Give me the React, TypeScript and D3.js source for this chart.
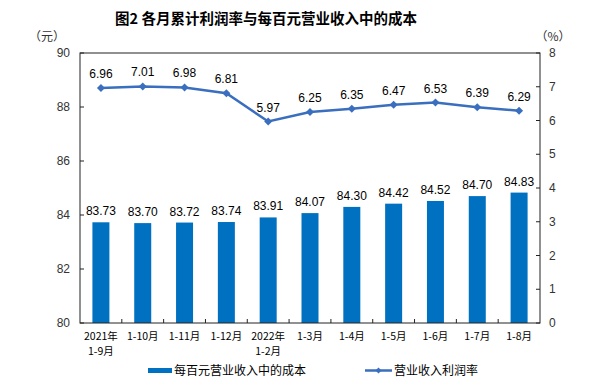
import React from "react";
import * as d3 from "d3";

const months = ["2021年\n1-9月", "1-10月", "1-11月", "1-12月", "2022年\n1-2月", "1-3月", "1-4月", "1-5月", "1-6月", "1-7月", "1-8月"];
const costPer100 = [83.73, 83.70, 83.72, 83.74, 83.91, 84.07, 84.30, 84.42, 84.52, 84.70, 84.83];
const profitRate = [6.96, 7.01, 6.98, 6.81, 5.97, 6.25, 6.35, 6.47, 6.53, 6.39, 6.29];
const leftTicks = [80, 82, 84, 86, 88, 90];
const rightTicks = [0, 1, 2, 3, 4, 5, 6, 7, 8];

const W = 600, H = 384;
const margin = { top: 53, right: 60, bottom: 61, left: 80 };
const barColor = "#0070C0";
const lineColor = "#3A6EBE";
const numFont = "'Liberation Sans', Arial, 'Noto Sans CJK SC', sans-serif";
const cjkFont = "'Noto Sans CJK SC', 'Liberation Sans', sans-serif";

export default function App() {
  const innerW = W - margin.left - margin.right;
  const innerH = H - margin.top - margin.bottom;

  const x = d3.scaleBand<number>().domain(d3.range(months.length)).range([0, innerW]).paddingInner(0);
  const yL = d3.scaleLinear().domain([80, 90]).range([innerH, 0]);
  const yR = d3.scaleLinear().domain([0, 8]).range([innerH, 0]);
  const barW = 17;
  const cx = (i: number) => (x(i) as number) + x.bandwidth() / 2;

  const line = d3.line<number>().x((d, i) => cx(i)).y(d => yR(d));

  const diamond = (px: number, py: number, r: number) =>
    `M${px},${py - r}L${px + r},${py}L${px},${py + r}L${px - r},${py}Z`;

  return (
    <svg width={W} height={H} style={{ position: "absolute", left: 0, top: 0, background: "#fff" }}>
      <text x={266} y={24} textAnchor="middle" fontFamily={cjkFont} fontSize={14.5} fontWeight="bold" fill="#000">
        图2 各月累计利润率与每百元营业收入中的成本
      </text>
      <text x={47} y={41} textAnchor="middle" fontFamily={cjkFont} fontSize={12} fill="#333">（元）</text>
      <text x={553} y={41} textAnchor="middle" fontFamily={cjkFont} fontSize={12} fill="#333">（%）</text>

      <g transform={`translate(${margin.left},${margin.top})`}>
        {costPer100.map((v, i) => (
          <g key={"b" + i}>
            <rect x={cx(i) - barW / 2} y={yL(v)} width={barW} height={innerH - yL(v)} fill={barColor} />
            <text x={cx(i)} y={yL(v) - 7} textAnchor="middle" fontFamily={numFont} fontSize={12} fill="#000">
              {v.toFixed(2)}
            </text>
          </g>
        ))}

        <path d={line(profitRate) || ""} fill="none" stroke={lineColor} strokeWidth={2.5} />
        {profitRate.map((v, i) => (
          <g key={"p" + i}>
            <path d={diamond(cx(i), yR(v), 4)} fill={lineColor} />
            <text x={cx(i)} y={yR(v) - 10} textAnchor="middle" fontFamily={numFont} fontSize={12} fill="#000">
              {v.toFixed(2)}
            </text>
          </g>
        ))}

        <rect x={0} y={0} width={innerW} height={innerH} fill="none" stroke="#222" strokeWidth={1} />

        {leftTicks.map(t => (
          <g key={"l" + t}>
            <line x1={0} x2={4} y1={yL(t)} y2={yL(t)} stroke="#222" />
            <text x={-10} y={yL(t) + 4} textAnchor="end" fontFamily={numFont} fontSize={12} fill="#333">{t}</text>
          </g>
        ))}
        {rightTicks.map(t => (
          <g key={"r" + t}>
            <line x1={innerW - 4} x2={innerW} y1={yR(t)} y2={yR(t)} stroke="#222" />
            <text x={innerW + 9} y={yR(t) + 4} textAnchor="start" fontFamily={numFont} fontSize={12} fill="#333">{t}</text>
          </g>
        ))}
        {d3.range(1, months.length).map(i => (
          <line key={"x" + i} x1={x(i) as number} x2={x(i) as number} y1={innerH} y2={innerH - 4} stroke="#222" />
        ))}
        {months.map((m, i) => (
          <text key={"m" + i} x={cx(i)} y={innerH + 17} textAnchor="middle" fontFamily={cjkFont} fontSize={10.5} fill="#000">
            {m.split("\n").map((s, k) => (
              <tspan key={k} x={cx(i)} dy={k === 0 ? 0 : 15}>{s}</tspan>
            ))}
          </text>
        ))}
      </g>

      <g>
        <rect x={148} y={368} width={24} height={5} fill={barColor} />
        <text x={174} y={375} fontFamily={cjkFont} fontSize={12} fill="#000">每百元营业收入中的成本</text>
        <line x1={365} x2={392} y1={370.5} y2={370.5} stroke={lineColor} strokeWidth={2.5} />
        <path d={diamond(378.5, 370.5, 3)} fill={lineColor} />
        <text x={394} y={375} fontFamily={cjkFont} fontSize={12} fill="#000">营业收入利润率</text>
      </g>
    </svg>
  );
}
